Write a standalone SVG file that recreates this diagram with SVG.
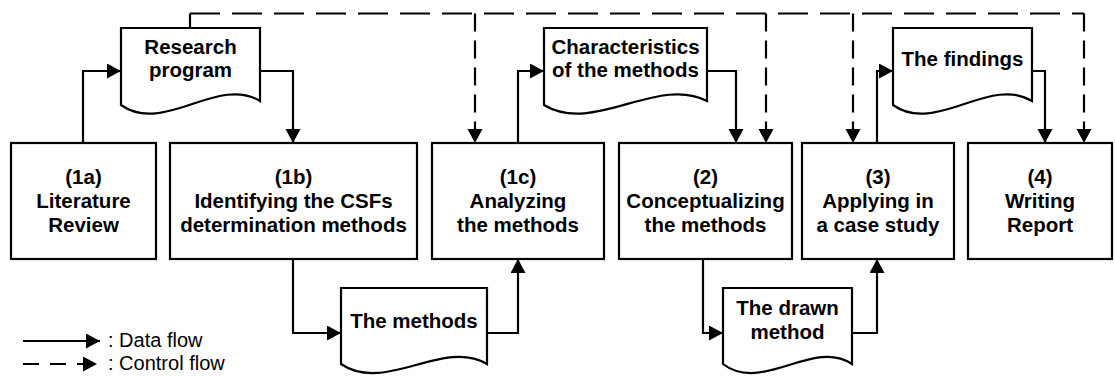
<svg xmlns="http://www.w3.org/2000/svg" width="1115" height="376" viewBox="0 0 1115 376">
<style>
.box{fill:#fff;stroke:#000;stroke-width:2.2}
.doc{fill:#fff;stroke:#000;stroke-width:2.2;stroke-linejoin:miter}
.t{font-family:"Liberation Sans",Arial,sans-serif;font-weight:bold;font-size:20.5px;text-anchor:middle;fill:#000}
.lg{font-family:"Liberation Sans",Arial,sans-serif;font-size:20px;fill:#000}
.data{fill:none;stroke:#000;stroke-width:2.2;marker-end:url(#ah)}
.ctlh{fill:none;stroke:#000;stroke-width:2.2;stroke-dasharray:30 12}
.ctlv{fill:none;stroke:#000;stroke-width:2.2;stroke-dasharray:18 9;marker-end:url(#ah)}
</style>
<defs>
<marker id="ah" markerUnits="userSpaceOnUse" markerWidth="16" markerHeight="16" refX="14" refY="7.5" orient="auto">
<path d="M0,0 L14,7.5 L0,15 z" fill="#000"/>
</marker>
</defs>
<rect width="1115" height="376" fill="#fff"/>

<g id="connectors">
<!-- control flow -->
<path d="M190,28 V13.5" fill="none" stroke="#000" stroke-width="2.2"/>
<path class="ctlh" d="M190,13.5 H1084"/>
<path class="ctlv" d="M475,13.5 V143"/>
<path class="ctlv" d="M766,13.5 V143"/>
<path class="ctlv" d="M853,13.5 V143"/>
<path class="ctlv" d="M1084,13.5 V143"/>
<!-- data flow -->
<path class="data" d="M83,143 V71 H121"/>
<path class="data" d="M260,71 H293 V143"/>
<path class="data" d="M293,259 V333 H341"/>
<path class="data" d="M487,333 H518 V259"/>
<path class="data" d="M518,143 V71 H544"/>
<path class="data" d="M707,71 H736 V143"/>
<path class="data" d="M703,259 V333 H723"/>
<path class="data" d="M852,333 H877 V259"/>
<path class="data" d="M877,143 V71 H893"/>
<path class="data" d="M1032,71 H1045 V143"/>
</g>

<g id="n1a">
<rect class="box" x="11" y="143" width="145" height="116"/>
<text class="t" x="83.5" y="184">(1a)</text>
<text class="t" x="83.5" y="208">Literature</text>
<text class="t" x="83.5" y="232">Review</text>
</g>
<g id="n1b">
<rect class="box" x="170" y="143" width="247" height="116"/>
<text class="t" x="293.5" y="184">(1b)</text>
<text class="t" x="293.5" y="208">Identifying the CSFs</text>
<text class="t" x="293.5" y="232">determination methods</text>
</g>
<g id="n1c">
<rect class="box" x="432" y="143" width="172" height="116"/>
<text class="t" x="518" y="184">(1c)</text>
<text class="t" x="518" y="208">Analyzing</text>
<text class="t" x="518" y="232">the methods</text>
</g>
<g id="n2">
<rect class="box" x="619" y="143" width="173" height="116"/>
<text class="t" x="705.5" y="184">(2)</text>
<text class="t" x="705.5" y="208">Conceptualizing</text>
<text class="t" x="705.5" y="232">the methods</text>
</g>
<g id="n3">
<rect class="box" x="802" y="143" width="152" height="116"/>
<text class="t" x="878" y="184">(3)</text>
<text class="t" x="878" y="208">Applying in</text>
<text class="t" x="878" y="232">a case study</text>
</g>
<g id="n4">
<rect class="box" x="968" y="143" width="144" height="116"/>
<text class="t" x="1040" y="184">(4)</text>
<text class="t" x="1040" y="208">Writing</text>
<text class="t" x="1040" y="232">Report</text>
</g>

<g id="docResearch">
<path class="doc" d="M121,105 V28 H260 V101 C218,75 163,135 121,105 Z"/>
<text class="t" x="190.5" y="54">Research</text>
<text class="t" x="190.5" y="77">program</text>
</g>
<g id="docCharacteristics">
<path class="doc" d="M544,105 V28 H707 V101 C658,75 593,135 544,105 Z"/>
<text class="t" x="625.5" y="54">Characteristics</text>
<text class="t" x="625.5" y="77">of the methods</text>
</g>
<g id="docFindings">
<path class="doc" d="M893,105 V28 H1032 V101 C990,75 935,135 893,105 Z"/>
<text class="t" x="962.5" y="66">The findings</text>
</g>
<g id="docMethods">
<path class="doc" d="M341,364 V288 H487 V364 C443,338 385,394 341,364 Z"/>
<text class="t" x="414" y="328">The methods</text>
</g>
<g id="docDrawn">
<path class="doc" d="M723,364 V288 H852 V364 C813,338 762,394 723,364 Z"/>
<text class="t" x="787.5" y="315">The drawn</text>
<text class="t" x="787.5" y="339">method</text>
</g>

<g id="legend">
<path class="data" d="M23,341 H100"/>
<path d="M23,364 H97" fill="none" stroke="#000" stroke-width="2.2" stroke-dasharray="16 11" marker-end="url(#ah)"/>
<text class="lg" x="108" y="347">: Data flow</text>
<text class="lg" x="108" y="370">: Control flow</text>
</g>
</svg>
